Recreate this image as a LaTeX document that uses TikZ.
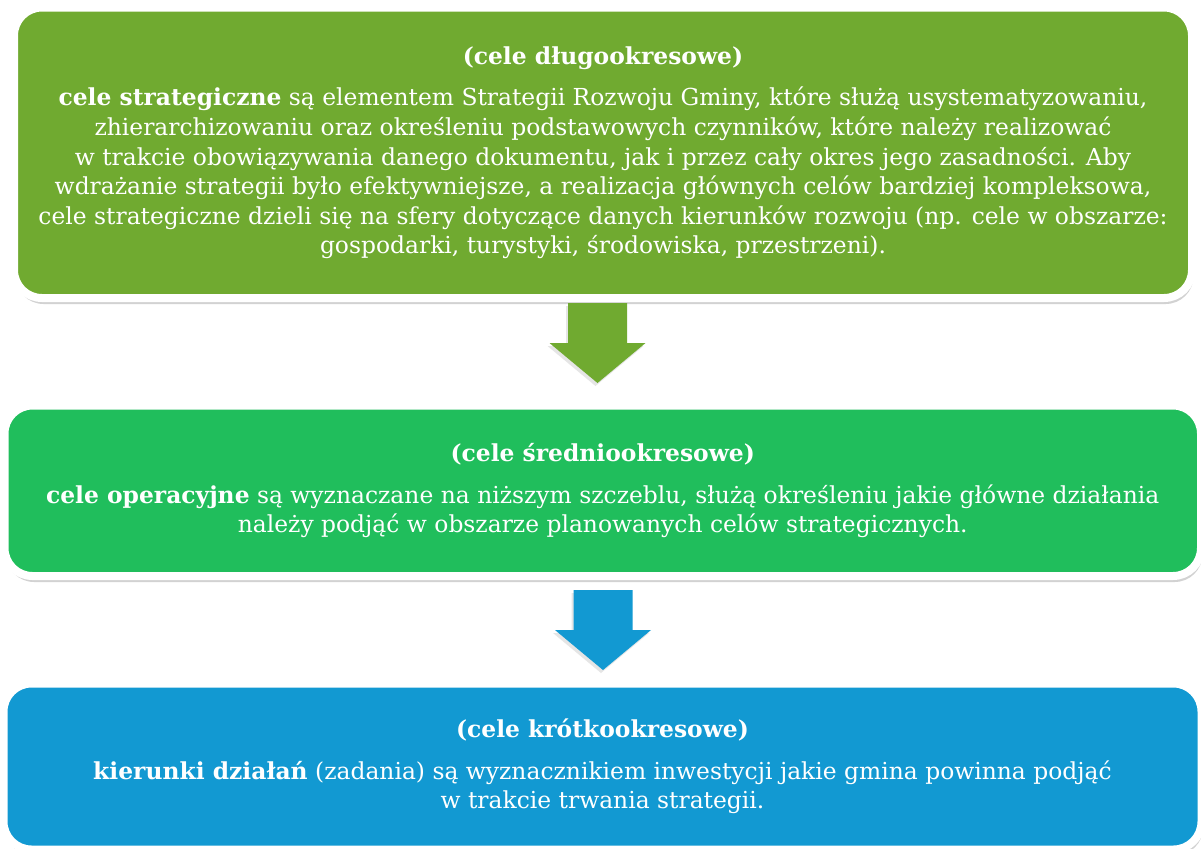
\documentclass[tikz,border=0pt]{standalone}
\usepackage{fontspec}
\setmainfont{DejaVu Serif}
\usepackage{tikz}
\usetikzlibrary{calc}
\usetikzlibrary{shadows}
\definecolor{olivegreen}{HTML}{70AA30}
\definecolor{leafgreen}{HTML}{20BE5C}
\definecolor{skyblue}{HTML}{1299D2}

\begin{document}
\begin{tikzpicture}[x=0.5pt, y=-0.5pt,
  goalbox/.style={rounded corners=14pt, draw=white, line width=4pt, text=white,
    align=center, inner sep=0pt, font=\fontsize{11.7}{14.8}\selectfont,
    drop shadow={opacity=0.35, shadow xshift=0.8pt, shadow yshift=-3pt}},
  downarrow/.style={draw=none,
    drop shadow={opacity=0.2, shadow xshift=-1pt, shadow yshift=-1.5pt}}]
\fill[white] (0,0) rectangle (1201,848);
\useasboundingbox (0,0) rectangle (1201,848);

\node[goalbox, fill=olivegreen, minimum width=589pt, minimum height=145.25pt] (strat) at (603,152.75)
  {\textbf{(cele długookresowe)}\\[6pt]
   \textbf{cele strategiczne} są elementem Strategii Rozwoju Gminy, które służą usystematyzowaniu,\\
   zhierarchizowaniu oraz określeniu podstawowych czynników, które należy realizować\\
   w trakcie obowiązywania danego dokumentu, jak i przez cały okres jego zasadności. Aby\\
   wdrażanie strategii było efektywniejsze, a realizacja głównych celów bardziej kompleksowa,\\
   cele strategiczne dzieli się na sfery dotyczące danych kierunków rozwoju (np. cele w obszarze:\\
   gospodarki, turystyki, środowiska, przestrzeni).};
\node[goalbox, fill=leafgreen, minimum width=598.25pt, minimum height=85.25pt] (oper) at (602.75,490.75)
  {\textbf{(cele średniookresowe)}\\[6pt]
   \textbf{cele operacyjne} są wyznaczane na niższym szczeblu, służą określeniu jakie główne działania\\
   należy podjąć w obszarze planowanych celów strategicznych.};
\node[goalbox, fill=skyblue, minimum width=599pt, minimum height=83pt] (kier) at (602.5,766.5)
  {\textbf{(cele krótkookresowe)}\\[6pt]
   \textbf{kierunki działań} (zadania) są wyznacznikiem inwestycji jakie gmina powinna podjąć\\
   w trakcie trwania strategii.};

% block arrows between the levels
\foreach\x/\y/\col in {597.5/303/olivegreen, 603/590/skyblue}{
  \fill[downarrow, \col] (\x,\y) -- ++(29.5,0) -- ++(0,40) -- ++(18.5,0)
    -- ++(-48,40) -- ++(-48,-40) -- ++(18.5,0) -- ++(0,-40) -- cycle;
}
\end{tikzpicture}
\end{document}
